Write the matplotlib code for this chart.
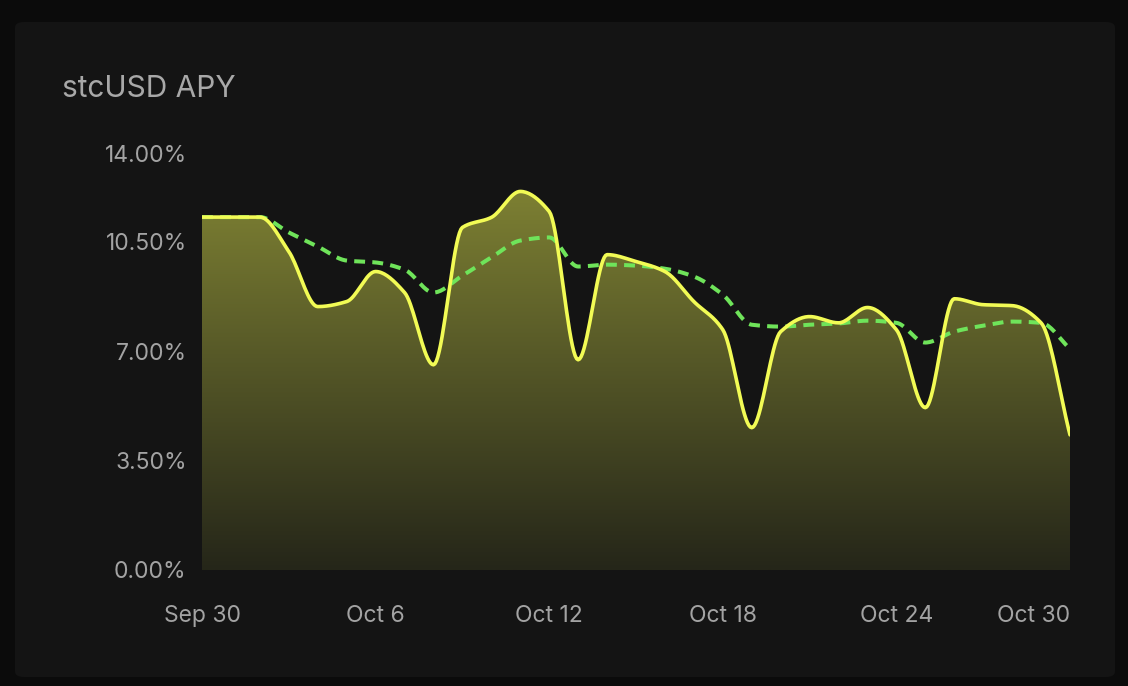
import numpy as np
import matplotlib
matplotlib.use("Agg")
import matplotlib.pyplot as plt
from matplotlib.patches import FancyBboxPatch
from matplotlib.colors import LinearSegmentedColormap
import matplotlib.transforms as mtransforms

# APY series (%), one value per day from Sep 30 to Oct 30
days = np.arange(31)
apy = [11.28, 11.28, 11.28, 10.18, 8.42, 8.58, 9.54, 8.87, 6.56, 10.95,
       11.27, 12.10, 11.46, 6.72, 10.08, 9.86, 9.54, 8.58, 7.68, 4.55,
       7.62, 8.10, 7.90, 8.39, 7.68, 5.19, 8.67, 8.48, 8.45, 7.90, 4.32]
apy_avg = [11.28, 11.28, 11.28, 10.79, 10.34, 9.89, 9.83, 9.60, 8.87, 9.41,
           9.99, 10.53, 10.63, 9.70, 9.76, 9.73, 9.63, 9.38, 8.80, 7.84,
           7.78, 7.84, 7.88, 7.97, 7.90, 7.27, 7.62, 7.81, 7.94, 7.90, 7.07]
tick_days = [0, 6, 12, 18, 24, 30]
tick_names = ["Sep 30", "Oct 6", "Oct 12", "Oct 18", "Oct 24", "Oct 30"]
y_ticks = [0, 3.5, 7, 10.5, 14]


def monotone(x, y, n=20):
    # monotone cubic (Fritsch-Carlson), like the "monotone" curve of the web chart
    x = np.asarray(x, float)
    y = np.asarray(y, float)
    h = np.diff(x)
    d = np.diff(y) / h
    m = np.zeros_like(y)
    m[0], m[-1] = d[0], d[-1]
    for k in range(1, len(y) - 1):
        if d[k - 1] * d[k] > 0:
            m[k] = 2.0 / (1.0 / d[k - 1] + 1.0 / d[k])
    xs, ys = [], []
    for k in range(len(h)):
        t = np.linspace(0, 1, n, endpoint=False)
        h00 = 2 * t**3 - 3 * t**2 + 1
        h10 = t**3 - 2 * t**2 + t
        h01 = -2 * t**3 + 3 * t**2
        h11 = t**3 - t**2
        xs.append(x[k] + t * h[k])
        ys.append(h00 * y[k] + h10 * h[k] * m[k] + h01 * y[k + 1] + h11 * h[k] * m[k + 1])
    xs.append([x[-1]])
    ys.append([y[-1]])
    return np.concatenate(xs), np.concatenate(ys)


plt.rcParams['font.family'] = ['Inter', 'DejaVu Sans']

fig = plt.figure(figsize=(11.28, 6.86), dpi=100)
fig.patch.set_facecolor("#0b0b0b")

card = FancyBboxPatch((15 / 1128, 1 - 677 / 686), 1100 / 1128, 655 / 686,
                      boxstyle="round,pad=0,rounding_size=0.008",
                      transform=fig.transFigure, facecolor="#141414",
                      edgecolor="none", zorder=-5)
fig.patches.append(card)

ax = fig.add_axes([202 / 1128, 1 - 570 / 686, 868 / 1128, 438 / 686])
ax.set_facecolor("none")
ax.set_zorder(1)

xs, ys = monotone(days, apy)
xa, ya = monotone(days, apy_avg)

# gradient fill under the main curve
top = 12.3
cmap = LinearSegmentedColormap.from_list("g", ["#252619", "#7e8133"])
grad = np.linspace(0, 1, 256).reshape(-1, 1)
img = ax.imshow(grad, extent=[0, 30, 0, top], origin="lower", aspect="auto",
                cmap=cmap, zorder=1)
poly = ax.fill_between(xs, 0, ys, facecolor="none", edgecolor="none")
clip = poly.get_paths()[0]
img.set_clip_path(clip, transform=ax.transData)

ax.plot(xa, ya, color="#6fe45a", lw=2.9, dashes=(2.7, 1.8), zorder=2)
ax.plot(xs, ys, color="#f2fb55", lw=2.6, zorder=3, solid_capstyle="round")

ax.set_xlim(0, 30)
ax.set_ylim(0, 14)
for s in ax.spines.values():
    s.set_visible(False)

ax.set_yticks(y_ticks)
ax.set_yticklabels([f"{v:.2f}%" for v in y_ticks])
ax.set_xticks(tick_days)
ax.set_xticklabels(tick_names)
ax.tick_params(length=0, colors="#a3a3a3", labelsize=16.5)
ax.tick_params(axis="y", pad=11)
ax.tick_params(axis="x", pad=25)

# top y label sits a bit lower, last x label is right-aligned
lab = ax.get_yticklabels()[-1]
lab.set_transform(lab.get_transform() + mtransforms.ScaledTranslation(0, -0.21, fig.dpi_scale_trans))
ax.get_xticklabels()[-1].set_horizontalalignment("right")

fig.text(62 / 1128, 1 - 89 / 686, "stcUSD APY", color="#a8a8a8", fontsize=21.5,
         va="center", ha="left")

fig.savefig("out.png", dpi=100, facecolor=fig.get_facecolor())
